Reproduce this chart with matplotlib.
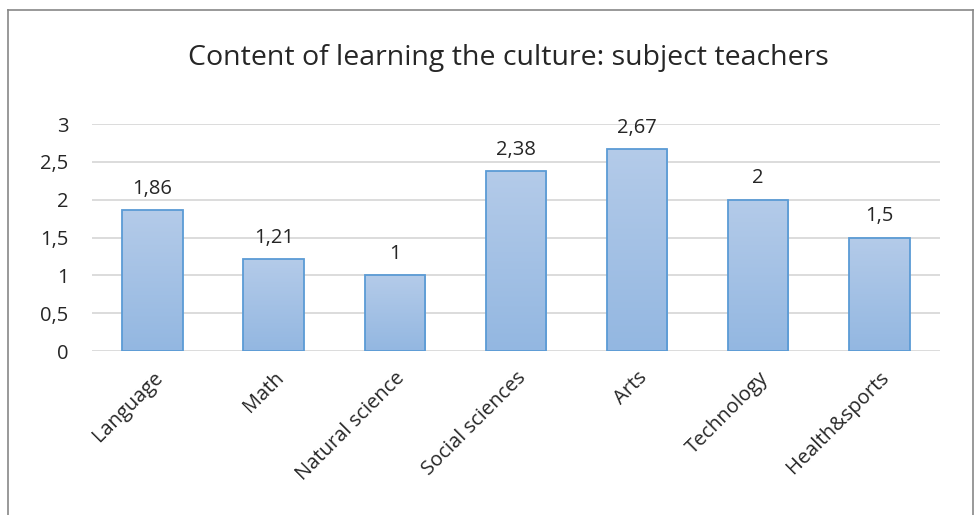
import matplotlib.pyplot as plt
import numpy as np
from matplotlib.lines import Line2D

plt.rcParams['font.family'] = ['Open Sans', 'DejaVu Sans']

# Data
subjects = ['Language', 'Math', 'Natural science', 'Social sciences', 'Arts', 'Technology', 'Health&sports']
scores = [1.86, 1.21, 1, 2.38, 2.67, 2, 1.5]
y_ticks = [0, 0.5, 1, 1.5, 2, 2.5, 3]

fig = plt.figure(figsize=(9.75, 5.15), dpi=100)
ax = fig.add_axes([0.0944, 0.3184, 0.8696, 0.4408])

x = np.arange(len(subjects))
bars = ax.bar(x, scores, width=0.5, color='none', edgecolor='#5b9bd5', linewidth=1.3, zorder=3)

# gradient fill like Excel
grad = np.linspace(0, 1, 256).reshape(-1, 1)
cmap = plt.matplotlib.colors.LinearSegmentedColormap.from_list('g', ['#93b7e1', '#b4cbe9'])
for b in bars:
    x0, w, h = b.get_x(), b.get_width(), b.get_height()
    im = ax.imshow(grad, extent=[x0, x0 + w, 0, h], origin='lower', aspect='auto', cmap=cmap, zorder=2)
    im.set_clip_path(b)

for xi, v in zip(x, scores):
    ax.text(xi, v + 0.15, f'{v:g}'.replace('.', ','), ha='center', va='bottom', fontsize=14.5, color='#262626')

ax.set_xlim(-0.5, len(subjects) - 0.5)
ax.set_ylim(0, 3)
ax.set_yticks(y_ticks)
ax.set_yticklabels([f'{t:g}'.replace('.', ',') for t in y_ticks])
ax.set_xticks(x)
ax.set_xticklabels(subjects, rotation=45, ha='right', va='top', rotation_mode='anchor')
ax.tick_params(axis='both', length=0, labelsize=14.5, labelcolor='#262626')
ax.tick_params(axis='y', pad=17)
ax.tick_params(axis='x', pad=12)
ax.grid(axis='y', color='#d9d9d9', linewidth=1.3, zorder=0)
ax.set_axisbelow(True)
for s in ax.spines.values():
    s.set_visible(False)

fig.text(0.521, 0.888, 'Content of learning the culture: subject teachers', ha='center', va='center',
         fontsize=20.5, color='#262626')

# chart border (left, top, right)
border = dict(color='#878787', linewidth=1.2, transform=fig.transFigure)
fig.add_artist(Line2D([0.0085, 0.0085], [0, 0.981], **border))
fig.add_artist(Line2D([0.0085, 0.998], [0.981, 0.981], **border))
fig.add_artist(Line2D([0.998, 0.998], [0, 0.981], **border))

fig.savefig('out.png', dpi=100)
